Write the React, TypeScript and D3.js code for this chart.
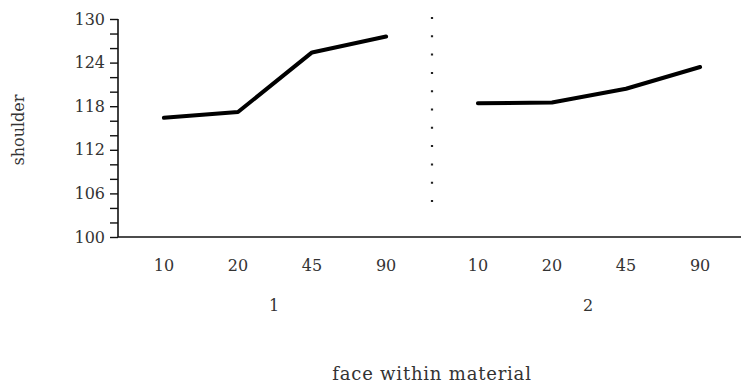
import React, { useEffect, useRef } from 'react';
import * as d3 from 'd3';

// data
const materials = ['1', '2'];
const faces = ['10', '20', '45', '90'];
const shoulder1 = [116.4, 117.2, 125.4, 127.6];
const shoulder2 = [118.4, 118.5, 120.4, 123.4];
const yMajorTicks = [100, 106, 112, 118, 124, 130];

const W = 741;
const H = 385;

const App = () => {
  const ref = useRef<SVGSVGElement>(null);

  useEffect(() => {
    const svg = d3.select(ref.current);
    svg.selectAll('*').remove();

    const font = '"DejaVu Serif", "Liberation Serif", serif';
    const x0 = 118;
    const yTop = 19;
    const yBot = 237;

    const yScale = d3.scaleLinear().domain([100, 130]).range([yBot, yTop]);
    // outer scale: one band per material, inner point scale for the faces
    const outer = d3.scaleBand().domain(materials).range([x0, 746]).padding(0);
    const inner = d3.scalePoint().domain(faces).range([0, outer.bandwidth()]).padding(0.62);

    // y axis
    const yAxis = d3.axisLeft(yScale)
      .tickValues(d3.range(100, 131, 2))
      .tickSize(8)
      .tickFormat((d) => (yMajorTicks.includes(+d) ? String(d) : ''));
    const gy = svg.append('g').attr('transform', `translate(${x0},0)`).call(yAxis);
    gy.select('.domain').attr('stroke', '#111').attr('stroke-width', 1.6).attr('d', `M0,${yTop}V${yBot}`);
    gy.selectAll('.tick line').attr('stroke', '#111').attr('stroke-width', 1.4);
    gy.selectAll('.tick text')
      .attr('font-family', font)
      .attr('font-size', 16)
      .attr('fill', '#333')
      .attr('x', -13);

    // x axis baseline
    svg.append('line')
      .attr('x1', x0).attr('x2', W)
      .attr('y1', yBot).attr('y2', yBot)
      .attr('stroke', '#111').attr('stroke-width', 1.6);

    // separator between materials (dotted, stops short of the baseline)
    const sepX = outer('2') as number;
    svg.append('line')
      .attr('x1', sepX).attr('x2', sepX)
      .attr('y1', 17).attr('y2', 203)
      .attr('stroke', '#222').attr('stroke-width', 2.2)
      .attr('stroke-dasharray', '2,16.3');

    // face labels and material labels
    materials.forEach((m) => {
      const off = outer(m) as number;
      faces.forEach((f) => {
        svg.append('text')
          .attr('x', off + (inner(f) as number))
          .attr('y', 271)
          .attr('text-anchor', 'middle')
          .attr('font-family', font)
          .attr('font-size', 16)
          .attr('fill', '#333')
          .text(f);
      });
      svg.append('text')
        .attr('x', off + outer.bandwidth() / 2 - 1)
        .attr('y', 311)
        .attr('text-anchor', 'middle')
        .attr('font-family', font)
        .attr('font-size', 16)
        .attr('fill', '#333')
        .text(m);
    });

    // lines
    const line = d3.line<[number, number]>().x((d) => d[0]).y((d) => d[1]);
    [shoulder1, shoulder2].forEach((vals, i) => {
      const off = outer(materials[i]) as number;
      const pts: [number, number][] = vals.map((v, j) => [off + (inner(faces[j]) as number), yScale(v)]);
      svg.append('path')
        .attr('d', line(pts))
        .attr('fill', 'none')
        .attr('stroke', '#000')
        .attr('stroke-width', 4)
        .attr('stroke-linejoin', 'round')
        .attr('stroke-linecap', 'round');
    });

    // axis titles
    svg.append('text')
      .attr('transform', 'translate(24,130) rotate(-90)')
      .attr('text-anchor', 'middle')
      .attr('font-family', font)
      .attr('font-size', 16)
      .attr('fill', '#333')
      .text('shoulder');

    svg.append('text')
      .attr('x', 432)
      .attr('y', 380)
      .attr('text-anchor', 'middle')
      .attr('font-family', font)
      .attr('font-size', 18)
      .attr('letter-spacing', 0.8)
      .attr('fill', '#333')
      .text('face within material');
  }, []);

  return (
    <svg
      ref={ref}
      width={W}
      height={H}
      style={{ position: 'absolute', left: 0, top: 0, background: '#fff' }}
    />
  );
};

export default App;
